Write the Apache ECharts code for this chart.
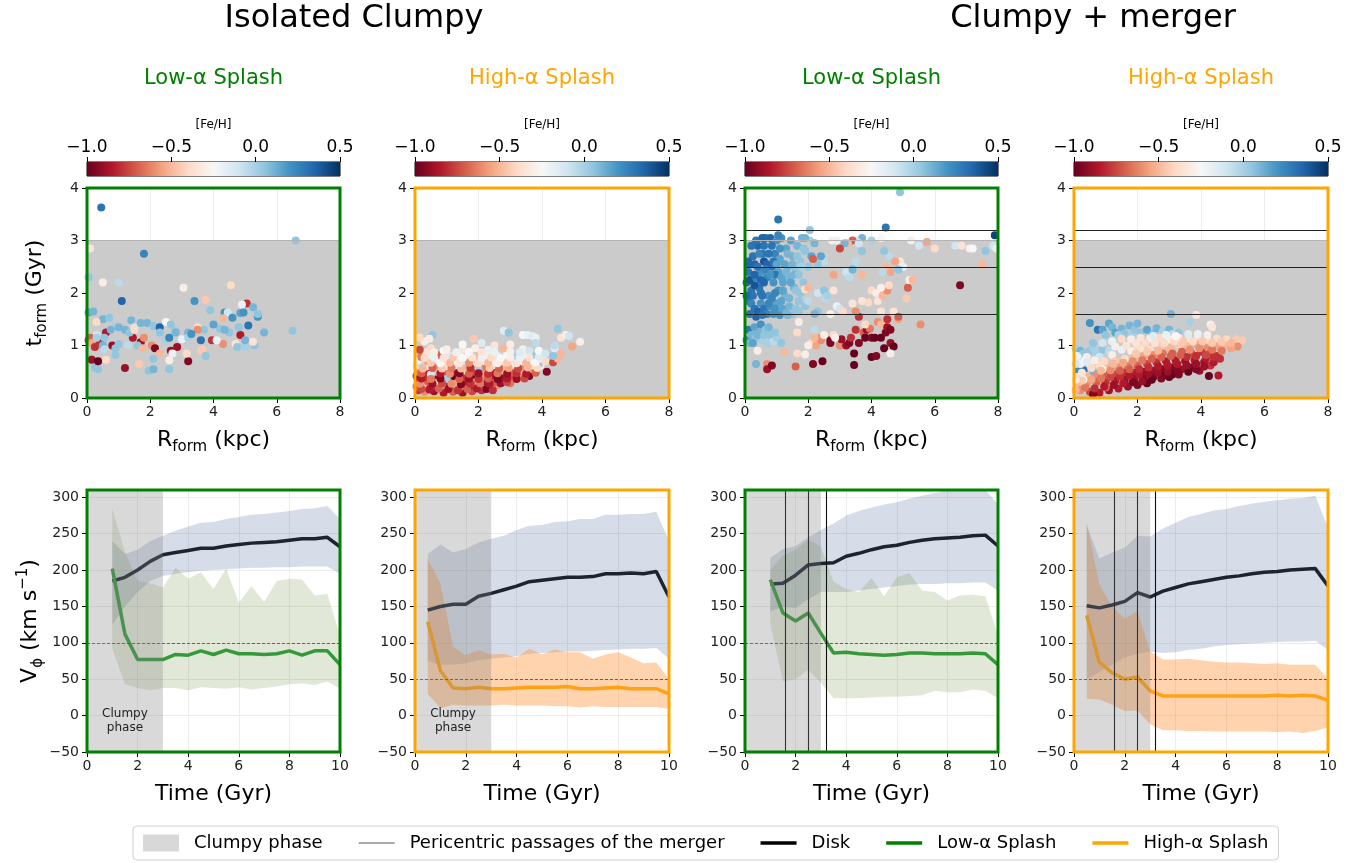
<!DOCTYPE html>
<html>
<head>
<meta charset="utf-8">
<script src="https://cdn.jsdelivr.net/npm/echarts@6/dist/echarts.min.js"></script>
<style>
  html, body { margin: 0; padding: 0; background: #fff; }
  #chart { width: 1372px; height: 863px; }
</style>
</head>
<body>
<div id="chart"></div>
<script>
// ---------- data ----------
const timeLow  = [1,1.5,2,2.5,3,3.5,4,4.5,5,5.5,6,6.5,7,7.5,8,8.5,9,9.5,10];
const timeHigh = [0.5,1,1.5,2,2.5,3,3.5,4,4.5,5,5.5,6,6.5,7,7.5,8,8.5,9,9.5,10];
const pericentres = [1.6, 2.5, 3.2];
const clumpyEnd = 3;

// Isolated clumpy, low-alpha splash
const isoLowDisk     = [185,190,200,212,221,224,227,230,230,233,235,237,238,239,241,243,243,245,232];
const isoLowDiskHi   = [240,222,228,240,247,254,260,265,266,270,273,276,277,279,281,284,285,288,270];
const isoLowDiskLo   = [125,150,170,185,192,195,197,199,200,201,202,203,203,204,204,205,205,205,195];
const isoLowSplash   = [202,112,77,77,77,84,83,89,84,90,85,85,84,85,89,83,89,89,70];
const isoLowSplashHi = [285,225,185,182,176,203,188,197,174,202,155,178,156,185,188,187,165,167,110];
const isoLowSplashLo = [92,43,38,35,38,38,35,39,38,37,39,36,38,40,43,44,42,47,37];

// Isolated clumpy, high-alpha splash
const isoHighDisk     = [145,150,153,153,164,168,173,178,184,186,188,190,190,191,195,195,196,195,198,163];
const isoHighDiskHi   = [222,235,224,229,238,243,247,255,261,262,266,267,270,270,276,276,277,277,280,240];
const isoHighDiskLo   = [75,70,70,72,76,78,80,82,85,86,87,88,88,89,90,91,92,92,93,78];
const isoHighSplash   = [129,62,38,37,39,37,37,38,39,39,39,40,37,37,38,39,37,37,37,30];
const isoHighSplashHi = [215,182,95,83,90,84,85,80,92,84,91,87,87,78,84,87,80,72,73,50];
const isoHighSplashLo = [30,10,15,14,14,14,15,14,14,14,13,13,11,13,12,12,12,12,12,9];

// Clumpy + merger, low-alpha splash
const merLowDisk     = [181,182,193,207,209,210,219,223,228,232,234,238,241,243,244,245,247,248,233];
const merLowDiskHi   = [217,229,233,245,255,264,275,281,286,290,293,298,302,306,310,310,310,310,290];
const merLowDiskLo   = [143,150,148,160,170,170,170,172,174,176,178,180,181,181,182,182,183,183,172];
const merLowSplash   = [187,141,130,141,113,86,87,85,84,83,84,86,86,85,85,85,86,85,70];
const merLowSplashHi = [200,220,228,242,232,184,174,170,189,164,190,196,172,170,158,165,166,164,110];
const merLowSplashLo = [127,47,50,63,45,24,24,24,25,26,26,27,28,34,32,32,36,34,24];

// Clumpy + merger, high-alpha splash
const merHighDisk     = [151,148,152,157,169,163,171,176,181,184,187,190,192,195,197,198,200,201,202,178];
const merHighDiskHi   = [262,216,224,231,247,246,257,265,273,277,282,284,288,291,294,296,298,299,302,258];
const merHighDiskLo   = [50,60,70,80,85,88,86,87,90,92,95,97,98,99,100,101,102,102,103,90];
const merHighSplash   = [138,73,59,50,53,34,27,27,27,27,27,27,27,27,27,28,27,28,27,21];
const merHighSplashHi = [265,180,150,133,144,88,77,77,78,76,74,73,73,72,71,72,70,70,70,50];
const merHighSplashLo = [23,22,15,6,7,-12,-20,-20,-21,-21,-22,-22,-22,-22,-22,-23,-22,-24,-21,-16];

// stars: [R_form (kpc), t_form (Gyr), [Fe/H]]
const isoLowStars = [
  [0.45,3.63,0.3],[6.6,3.0,0.05],[1.8,2.75,0.25],[0.1,2.85,-0.35],[0.05,2.3,0.05],[0.5,2.2,-0.3],[1.0,2.2,-0.05],
  [3.05,2.1,-0.3],[4.55,2.15,-0.4],[1.1,1.85,0.35],[3.4,1.85,0.2],[3.75,1.87,-0.45],[3.9,1.67,0.05],[5.05,1.8,-0.8],
  [4.9,1.78,-0.2],[5.25,1.73,0.1],[4.35,1.63,0.2],[4.45,1.63,-0.1],[4.6,1.53,0.2],[4.85,1.62,0.15],[4.95,1.63,0.2],
  [5.4,1.55,0.2],[5.4,1.6,0.05],[5.1,1.38,0.3],[4.3,1.52,-0.5],[0.05,1.63,0.15],[0.2,1.65,0.1],[0.5,1.5,0.1],
  [0.7,1.53,0.05],[0.3,1.45,-0.4],[0.9,1.37,0.0],[1.0,1.35,0.1],[1.4,1.48,0.1],[1.5,1.35,-0.1],[1.7,1.43,0.1],
  [1.9,1.43,0.1],[2.1,1.37,0.05],[2.3,1.35,0.35],[2.5,1.45,-0.25],[2.65,1.4,0.05],[2.8,1.27,0.05],[3.2,1.25,0.1],
  [3.5,1.35,-0.4],[3.7,1.3,0.05],[4.2,1.32,0.05],[4.0,1.4,0.15],[0.3,1.2,-0.1],[0.6,1.25,-0.85],[1.2,1.3,0.1],
  [1.45,1.15,-0.85],[1.7,1.06,-0.9],[1.8,1.15,-0.6],[2.05,1.0,-0.6],[2.15,0.95,-0.95],[2.5,1.12,0.0],[2.6,1.15,0.25],
  [2.65,0.9,-0.9],[2.85,0.97,-0.9],[3.0,1.12,-0.2],[3.2,1.15,0.0],[3.5,1.3,-0.6],[3.6,1.1,0.3],[3.6,0.9,-0.45],
  [3.95,1.1,-0.8],[4.3,1.03,-0.6],[4.7,1.03,-0.35],[4.85,1.2,-0.85],[4.75,0.97,0.05],[5.0,0.97,0.0],[5.0,1.1,0.1],
  [5.3,1.0,0.05],[5.25,1.07,-0.35],[5.6,1.25,0.1],[6.5,1.28,0.05],[0.05,1.1,-0.8],[0.1,1.15,-0.7],[0.15,1.05,-0.55],
  [0.25,0.97,-0.8],[0.4,1.05,-0.8],[0.3,1.15,0.0],[0.5,1.0,0.1],[0.55,0.93,-0.05],[0.8,1.0,-0.9],[0.9,0.95,0.05],
  [1.0,1.03,0.05],[1.3,1.0,-0.05],[1.6,1.0,0.05],[1.75,0.95,-0.5],[0.1,0.75,0.05],[0.15,0.73,-0.9],[0.25,0.58,0.05],
  [0.35,0.55,0.05],[0.35,0.7,-1.0],[0.6,0.73,-0.4],[0.9,0.82,0.05],[1.2,0.57,-0.9],[1.65,0.65,-0.45],[1.95,0.52,0.05],
  [2.1,0.75,0.05],[2.1,0.55,0.1],[2.3,0.85,-0.5],[2.6,0.55,0.05],[2.6,0.72,-0.3],[2.7,0.85,-0.2],[3.2,0.7,-0.95],
  [3.15,0.85,-0.4],[3.65,0.93,-0.45],[3.75,0.8,0.05],[2.3,1.25,0.05],[2.8,1.25,0.1],[3.3,1.22,0.2],[4.5,1.25,0.05],
  [4.8,1.35,0.05],[4.1,1.1,-0.2],[4.35,1.3,0.1],[1.35,1.25,0.05],[1.5,1.3,-0.4],[0.75,1.3,0.1],[0.55,1.15,0.05]
];

const isoHighStars = [
  [0.1,0.15,-0.8],[0.3,0.12,-0.6],[0.6,0.13,-0.9],[0.9,0.1,-0.85],[1.2,0.12,-0.7],[1.5,0.1,-0.9],[1.8,0.13,-0.75],[2.1,0.15,-0.8],
  [0.05,0.22,-0.7],[0.25,0.25,-0.5],[0.5,0.2,-0.8],[0.8,0.22,-0.6],[1.1,0.25,-0.85],[1.4,0.2,-0.65],[1.7,0.22,-0.9],[2.0,0.23,-0.7],
  [2.3,0.2,-0.75],[2.6,0.25,-0.6],[0.1,0.3,-0.9],[0.4,0.32,-0.7],[0.7,0.3,-0.45],[1.0,0.33,-0.8],[1.3,0.3,-0.55],[1.6,0.32,-0.85],
  [1.9,0.3,-0.6],[2.2,0.32,-0.9],[2.5,0.3,-0.7],[2.8,0.33,-0.8],[3.0,0.28,-0.65],[0.05,0.42,-0.95],[0.3,0.4,-0.8],[0.6,0.43,-0.9],
  [0.9,0.4,-0.7],[1.2,0.42,-1.0],[1.5,0.4,-0.8],[1.8,0.44,-0.95],[2.1,0.4,-0.6],[2.4,0.43,-0.85],[2.7,0.4,-0.9],[3.0,0.42,-0.75],
  [3.3,0.4,-0.6],[3.6,0.42,-0.95],[1.0,0.36,0.0],[0.1,0.5,-0.6],[0.4,0.52,-0.85],[0.7,0.5,-0.5],[1.0,0.53,-0.7],[1.3,0.5,-0.9],
  [1.6,0.52,-0.4],[1.9,0.5,-0.75],[2.2,0.53,-0.55],[2.5,0.5,-0.85],[2.8,0.52,-0.5],[3.1,0.5,-0.7],[3.4,0.53,-0.45],[3.7,0.55,-0.6],
  [4.15,0.5,-0.95],[0.5,0.45,-0.1],[0.05,0.62,-0.4],[0.35,0.6,-0.3],[0.65,0.63,-0.6],[0.95,0.6,-0.35],[1.25,0.62,-0.2],
  [1.55,0.6,-0.55],[1.85,0.63,-0.3],[2.15,0.6,-0.65],[2.45,0.62,-0.35],[2.75,0.6,-0.5],[3.05,0.63,-0.3],[3.35,0.6,-0.6],
  [3.65,0.62,-0.4],[3.95,0.62,-0.3],[4.35,0.68,-0.75],[0.2,0.65,-0.05],[2.0,0.57,0.0],[3.9,0.65,0.05],[0.1,0.72,-0.3],
  [0.4,0.7,-0.55],[0.7,0.73,-0.15],[1.0,0.7,-0.4],[1.3,0.72,-0.25],[1.6,0.7,-0.1],[1.9,0.73,-0.45],[2.2,0.7,-0.3],[2.5,0.72,-0.2],
  [2.8,0.7,-0.35],[3.1,0.73,-0.15],[3.4,0.7,-0.3],[3.7,0.73,-0.2],[4.0,0.75,-0.3],[4.5,0.75,-0.5],[4.35,0.8,0.05],[0.2,0.78,-0.65],
  [0.5,0.8,-0.3],[0.8,0.82,-0.7],[1.1,0.8,-0.15],[1.4,0.8,-0.3],[1.7,0.82,-0.2],[2.0,0.8,-0.5],[2.3,0.82,-0.3],[2.6,0.8,-0.15],
  [2.9,0.83,-0.25],[3.2,0.8,0.0],[3.5,0.82,-0.2],[3.8,0.8,0.05],[0.35,0.87,-0.35],[0.9,0.9,-0.25],[0.15,0.92,-0.75],[0.5,0.95,-0.4],
  [1.0,0.93,-0.3],[1.5,0.92,-0.35],[1.9,0.95,-0.3],[2.3,0.92,-0.2],[2.8,0.95,-0.5],[3.4,0.93,-0.3],[3.6,0.9,-0.1],[4.4,0.95,-0.15],
  [4.95,0.98,-0.55],[5.2,1.07,-0.3],[0.3,1.08,-0.3],[0.15,1.15,-0.4],[0.55,1.2,0.05],[0.45,1.13,-0.3],[1.85,1.13,-0.45],
  [2.8,1.28,-0.15],[2.95,1.25,0.05],[3.4,1.2,-0.25],[3.55,1.2,-0.2],[3.7,1.18,-0.15],[4.5,1.32,0.05],[4.6,1.15,-0.35],
  [4.75,1.2,-0.3],[4.85,1.18,-0.1],[3.8,1.15,-0.2],[3.8,1.05,-0.05],[4.4,1.0,-0.05],[2.1,1.05,-0.15],[1.5,1.02,-0.25],
  [3.0,1.02,-0.3],[2.5,1.0,-0.35],[4.6,0.85,-0.5],
  [0.2,0.17,-0.75],[0.45,0.16,-0.85],[0.75,0.18,-0.7],[1.05,0.17,-0.9],[1.35,0.15,-0.8],[1.65,0.17,-0.7],[1.95,0.18,-0.85],
  [2.25,0.17,-0.95],[2.45,0.15,-0.8],[0.15,0.27,-0.6],[0.55,0.27,-0.9],[0.85,0.28,-0.75],[1.15,0.27,-0.6],[1.45,0.26,-0.95],
  [1.75,0.27,-0.8],[2.05,0.28,-0.65],[2.35,0.27,-0.85],[2.7,0.28,-0.9],[2.9,0.3,-0.75],[0.2,0.37,-0.85],[0.5,0.36,-0.65],
  [0.8,0.37,-0.95],[1.4,0.36,-0.7],[1.7,0.37,-0.9],[2.0,0.36,-0.8],[2.3,0.37,-0.7],[2.6,0.36,-0.95],[2.9,0.37,-0.85],
  [3.2,0.36,-0.9],[3.45,0.37,-0.75],[0.2,0.47,-0.7],[0.8,0.47,-0.85],[1.1,0.46,-0.6],[1.4,0.47,-0.95],[1.7,0.46,-0.7],
  [2.0,0.47,-0.9],[2.3,0.46,-0.8],[2.6,0.47,-0.65],[2.9,0.46,-0.9],[3.2,0.47,-0.8],[3.5,0.46,-0.85],[3.8,0.48,-0.7],
  [0.25,0.56,-0.5],[0.55,0.57,-0.7],[0.85,0.56,-0.45],[1.15,0.57,-0.65],[1.45,0.56,-0.5],[1.75,0.57,-0.8],[2.35,0.57,-0.45],
  [2.65,0.56,-0.7],[2.95,0.57,-0.55],[3.25,0.56,-0.75],[3.55,0.58,-0.5],[3.85,0.57,-0.4],[0.5,0.67,-0.45],[0.8,0.66,-0.25],
  [1.1,0.67,-0.5],[1.4,0.66,-0.35],[1.7,0.67,-0.6],[2.0,0.66,-0.4],[2.3,0.67,-0.5],[2.6,0.66,-0.3],[2.9,0.67,-0.45],
  [3.2,0.66,-0.35],[3.5,0.67,-0.5],[3.8,0.68,-0.25],[4.1,0.7,-0.4],[0.3,0.76,-0.4],[0.6,0.77,-0.2],[0.9,0.76,-0.35],
  [1.2,0.77,-0.45],[1.5,0.76,-0.25],[1.8,0.77,-0.35],[2.1,0.76,-0.2],[2.4,0.77,-0.4],[2.7,0.76,-0.25],[3.0,0.77,-0.3],
  [3.3,0.76,-0.2],[3.6,0.77,-0.35],[3.9,0.78,-0.15],[0.6,0.87,-0.3],[1.3,0.87,-0.2],[1.7,0.88,-0.25],[2.1,0.87,-0.35],
  [2.5,0.88,-0.2],[3.0,0.88,-0.3],[3.3,0.87,-0.15],[3.9,0.9,-0.25],[4.1,0.85,-0.1]
];

const merLowStars = [
  [0.05,2.2,0.35],[0.1,2.4,0.3],[0.15,2.25,0.4],[0.2,2.05,0.3],[0.25,2.7,0.3],[0.3,2.55,0.35],[0.35,2.3,0.25],[0.4,2.9,0.35],
  [0.45,2.1,0.3],[0.5,2.4,0.2],[0.55,2.75,0.3],[0.6,2.6,0.4],[0.65,3.05,0.3],[0.7,2.3,0.25],[0.75,1.95,0.2],[0.8,3.05,0.35],
  [0.85,2.5,0.3],[0.9,2.2,0.2],[0.95,2.75,0.25],[1.0,3.0,0.2],[1.05,2.4,0.15],[1.1,2.65,0.15],[1.15,3.05,0.2],[1.2,2.2,0.15],
  [1.25,1.95,0.1],[1.3,2.85,0.15],[1.35,2.5,0.1],[1.4,2.3,0.1],[1.45,3.0,0.15],[1.5,2.7,0.1],[1.55,2.1,0.1],[1.6,2.45,0.05],
  [1.65,2.9,0.1],[1.7,1.85,0.05],[1.75,2.6,0.05],[1.8,3.05,0.1],[1.85,2.2,0.05],[1.9,2.8,0.05],[2.0,2.5,0.05],[2.05,3.0,0.0],
  [0.1,1.85,0.3],[0.2,1.8,0.25],[0.3,1.7,0.3],[0.4,1.65,0.35],[0.5,1.8,0.2],[0.6,1.7,0.3],[0.7,1.6,0.25],[0.8,1.75,0.2],
  [0.9,1.6,0.2],[1.0,1.8,0.15],[1.1,1.58,0.2],[1.2,1.7,0.15],[1.3,1.62,0.1],[1.4,1.75,0.1],[1.5,1.6,0.05],[1.6,1.7,0.05],
  [1.7,1.65,0.05],[0.5,2.0,0.3],[0.6,2.2,0.35],[0.3,2.15,0.4],[0.85,1.9,0.25],[1.05,2.05,0.2],[0.7,2.55,0.35],[0.95,2.35,0.3],
  [1.25,2.55,0.15],[1.55,2.35,0.1],[0.35,3.0,0.3],[1.05,3.1,0.25],[1.05,3.4,0.3],[0.55,3.05,0.35],
  [0.1,2.6,0.35],[0.2,2.9,0.3],[0.3,2.35,0.35],[0.4,2.5,0.3],[0.45,2.75,0.25],[0.5,2.25,0.35],[0.55,1.95,0.3],[0.65,2.45,0.25],
  [0.75,2.75,0.3],[0.8,2.35,0.2],[0.9,2.6,0.3],[0.95,2.0,0.25],[1.0,2.55,0.15],[1.1,2.85,0.2],[1.15,2.3,0.15],[1.2,2.05,0.15],
  [1.3,2.4,0.1],[1.35,2.75,0.1],[1.4,1.9,0.1],[1.45,2.2,0.15],[1.5,2.55,0.1],[1.6,2.05,0.05],[1.65,2.7,0.05],[1.7,2.35,0.05],
  [1.75,2.0,0.05],[1.8,2.5,0.0],[1.85,2.85,0.05],[1.9,1.75,0.05],[0.25,1.95,0.3],[0.35,1.55,0.35],[0.55,1.58,0.3],
  [0.75,1.8,0.25],[0.95,1.7,0.2],[1.15,1.85,0.15],[1.35,1.58,0.1],[0.15,1.6,0.3],[0.05,1.95,0.35],[0.15,2.55,0.35],
  [0.6,2.9,0.3],[0.85,2.9,0.3],
  [0.05,1.1,0.25],[0.1,1.3,0.3],[0.2,1.2,0.1],[0.3,1.35,0.15],[0.35,1.15,0.05],[0.45,1.25,0.1],[0.5,1.4,0.2],[0.55,1.1,0.0],
  [0.65,1.3,0.05],[0.7,1.05,0.0],[0.8,1.2,0.05],[0.9,1.08,-0.05],[1.0,1.15,0.0],[1.15,1.05,0.05],[0.4,0.9,-0.3],[0.15,1.05,0.1],
  [0.4,1.2,0.1],[0.6,1.2,0.05],[0.25,1.05,0.15],[0.75,1.35,0.1],[0.95,1.25,0.05],
  [0.35,0.65,0.1],[0.7,0.65,-0.6],[0.7,0.55,-0.9],[0.85,0.62,-0.95],[1.6,0.6,-0.7],[2.15,0.65,-0.95],[2.45,0.7,-1.0],
  [1.25,0.87,-0.5],[1.65,0.85,-0.4],[1.65,1.25,-0.4],[1.7,1.45,-0.3],[1.9,0.83,-0.3],[2.1,1.05,-0.4],[2.25,1.0,-0.55],
  [2.4,1.1,-0.6],[2.4,1.15,-0.6],[2.7,1.1,-0.95],[2.7,1.05,-0.95],[2.8,1.2,-0.4],[3.0,1.0,-0.6],[3.05,1.12,-0.9],[3.2,1.0,-0.9],
  [3.3,1.05,-0.95],[3.35,1.15,-0.8],[3.45,0.85,-1.0],[3.45,0.63,-1.0],[3.6,1.05,-0.95],[3.5,1.3,-0.8],[3.75,1.25,-0.7],
  [3.85,1.3,-0.9],[3.95,1.32,-0.65],[3.8,1.15,-1.0],[4.0,0.78,-1.0],[4.0,1.15,-0.95],[4.15,0.8,-0.95],[4.1,1.15,-1.0],
  [4.2,1.45,-0.6],[4.3,1.4,-0.5],[4.3,1.15,-1.0],[4.45,1.25,-0.95],[4.5,1.35,-0.9],[4.5,1.5,-0.8],[4.4,0.95,-1.0],[4.6,1.05,-0.9],
  [4.7,0.98,-1.0],[4.6,1.3,-0.95],[4.6,0.85,-0.3],[3.6,1.55,-0.8],[3.8,1.4,-0.4],[3.7,1.85,-0.35],[3.5,1.65,-0.6],[3.4,1.8,-0.35],
  [3.9,1.82,-0.4],[4.0,2.05,-0.4],[4.15,2.0,-0.3],[4.2,1.85,-0.35],[4.3,1.65,-0.35],[4.35,1.95,-0.5],[4.5,2.05,-0.6],
  [4.55,2.15,-0.4],[4.7,1.65,-0.35],[4.85,1.5,-0.55],[4.85,1.55,-0.7],[4.9,2.6,-0.35],[5.0,2.5,-0.2],[5.1,1.9,-0.45],
  [5.15,2.1,-0.7],[5.2,2.25,-0.3],[5.55,1.4,-0.6],[4.6,2.4,-0.55],[4.45,2.5,-0.5],[4.55,2.7,-0.05],[4.4,2.8,0.05],[4.35,2.4,-0.05],
  [4.3,3.05,-0.25],[4.45,3.25,0.3],[4.0,3.0,0.0],[3.7,3.05,0.1],[3.5,3.0,-0.1],[3.4,3.0,-0.7],[3.25,2.95,-0.5],[3.15,2.95,0.1],
  [3.0,2.85,-0.75],[2.9,3.0,-0.2],[2.75,3.0,-0.3],[2.5,2.6,-0.05],[2.3,2.55,0.05],[2.4,2.7,0.15],[2.1,2.7,0.15],[2.15,2.65,-0.7],
  [2.3,2.0,-0.1],[2.5,2.05,0.05],[2.55,1.9,-0.05],[2.6,1.95,0.0],[2.8,2.35,-0.55],[2.8,2.05,-0.35],[2.7,1.6,-0.3],[2.85,1.15,-0.3],
  [2.3,1.65,0.05],[2.2,1.6,0.1],[2.0,1.85,-0.05],[1.9,2.07,-0.4],[2.0,2.1,-0.5],[2.0,1.0,-0.3],[2.2,1.3,-0.05],[2.5,1.2,-0.3],
  [2.2,1.15,-0.5],[2.9,1.75,-0.2],[3.0,1.7,-0.1],[3.1,1.65,-0.4],[3.2,2.4,-0.1],[3.3,2.3,-0.05],[3.4,2.45,0.1],[3.7,2.8,0.05],
  [3.6,2.95,-0.1],[3.5,2.6,-0.05],[3.7,2.35,-0.5],[4.3,2.1,-0.3],[4.85,2.45,0.05],[4.75,2.6,-0.55],[5.3,2.25,-0.5],[5.5,2.9,-0.1],
  [5.25,3.0,-0.3],[5.75,2.97,-0.55],[6.0,2.85,-0.4],[6.65,2.9,-0.1],[6.85,2.9,-0.35],[7.1,2.85,-0.3],[7.2,2.85,-0.25],
  [7.5,2.55,-0.5],[7.6,2.8,0.05],[7.85,2.9,-0.1],[7.95,2.85,-0.2],[7.9,3.1,0.45],[6.8,2.15,-0.95],[4.9,3.92,0.05],
  [2.05,3.2,0.05],[1.9,3.05,0.1],[2.2,2.95,0.1]
];

const merHighStars = [
  [0.5,1.43,0.2],[0.75,1.3,0.3],[0.9,1.3,0.15],[1.1,1.42,0.15],[1.2,1.35,0.1],[1.3,1.25,0.15],[1.5,1.32,0.1],[1.6,1.23,0.05],
  [1.75,1.38,0.1],[1.9,1.3,0.05],[2.1,1.25,0.05],[2.3,1.3,0.15],[2.5,1.22,0.05],[2.6,1.33,0.1],[2.8,1.27,0.0],[3.0,1.3,0.1],
  [3.1,1.22,-0.05],[3.3,1.25,0.05],[1.0,1.2,0.05],[1.4,1.2,0.0],[1.8,1.18,0.0],[3.05,1.6,0.1],[3.65,1.45,0.0],[3.85,1.58,-0.35],
  [4.3,1.4,-0.3],[4.35,1.35,-0.35],[2.0,1.42,0.1],
  [1.5,1.13,-0.4],[1.8,1.12,-0.3],[2.1,1.15,-0.35],[2.4,1.13,-0.3],[2.7,1.15,-0.4],[3.0,1.12,-0.3],[3.3,1.15,-0.35],
  [3.6,1.12,-0.35],[3.9,1.15,-0.4],[4.2,1.12,-0.4],[4.5,1.13,-0.4],[4.8,1.12,-0.4],[5.1,1.12,-0.45],[5.3,1.1,-0.45],
  [3.6,1.22,-0.15],[3.9,1.22,-0.2],[4.2,1.2,-0.3],
  [0.05,0.95,0.0],[0.2,0.9,0.1],[0.3,0.85,0.05],[0.5,0.9,0.05],[0.7,0.85,0.0],[0.9,0.92,0.05],[1.1,0.9,-0.05],[0.15,0.75,-0.1],
  [0.1,0.55,0.25],[0.3,0.53,0.3],[0.2,0.5,0.2],[0.6,0.5,0.1],
  [0.1,0.8,-0.2],[0.4,0.78,-0.3],[0.8,0.78,-0.1],[1.2,0.82,-0.3],[1.5,0.92,-0.2],[1.8,0.9,-0.3],[2.1,0.95,-0.35],[2.4,0.92,-0.4],
  [2.7,0.98,-0.45],[3.0,0.95,-0.5],[3.3,1.0,-0.45],[3.6,0.98,-0.5],[3.9,1.02,-0.55],[4.2,0.95,-0.6],[4.5,0.98,-0.55],
  [4.8,1.0,-0.5],[5.15,0.98,-0.6],[1.3,0.7,-0.45],[1.6,0.75,-0.4],[1.9,0.78,-0.5],[2.2,0.8,-0.55],[2.5,0.82,-0.6],[2.8,0.85,-0.65],
  [3.1,0.85,-0.7],[3.4,0.88,-0.7],[3.7,0.85,-0.75],[4.0,0.88,-0.8],[4.3,0.85,-0.75],[4.5,0.8,-0.8],[0.2,0.65,-0.2],[0.5,0.65,-0.35],
  [0.8,0.62,-0.4],[1.1,0.6,-0.5],[1.4,0.58,-0.6],[1.7,0.6,-0.65],[2.0,0.62,-0.7],[2.3,0.65,-0.75],[2.6,0.68,-0.8],[2.9,0.7,-0.85],
  [3.2,0.72,-0.85],[3.5,0.7,-0.9],[3.8,0.72,-0.85],[4.1,0.68,-0.9],[4.3,0.62,-0.8],[0.1,0.4,-0.4],[0.4,0.42,-0.5],[0.7,0.42,-0.6],
  [1.0,0.45,-0.7],[1.3,0.45,-0.75],[1.6,0.48,-0.8],[1.9,0.48,-0.85],[2.2,0.5,-0.9],[2.5,0.52,-0.9],[2.8,0.55,-0.95],[3.1,0.58,-0.95],
  [3.4,0.55,-0.9],[3.7,0.58,-0.95],[3.95,0.52,-0.9],[4.25,0.42,-1.0],[4.55,0.43,-0.85],[0.1,0.25,-0.5],[0.4,0.28,-0.6],
  [0.7,0.3,-0.7],[1.0,0.3,-0.8],[1.3,0.33,-0.85],[1.6,0.35,-0.9],[1.9,0.36,-0.9],[2.2,0.38,-0.95],[2.5,0.4,-0.95],[2.8,0.42,-1.0],
  [3.1,0.45,-1.0],[0.2,0.15,-0.6],[0.5,0.12,-0.75],[0.8,0.1,-0.85],[1.1,0.15,-0.9],[1.4,0.18,-0.85],[1.7,0.22,-0.9],
  [2.0,0.25,-0.95],[2.3,0.28,-1.0],[0.6,0.07,-0.95],[1.0,0.2,-0.7],[0.3,0.35,-0.3],[0.9,0.55,-0.3],[2.0,1.0,-0.4],
  [0.35,0.2,-0.65],[0.65,0.18,-0.8],[0.95,0.22,-0.85],[1.25,0.25,-0.9],[1.55,0.28,-0.85],[1.85,0.3,-0.95],[2.15,0.32,-0.9],
  [2.45,0.35,-1.0],[2.75,0.37,-0.95],[3.0,0.4,-1.0],[3.3,0.45,-0.95],[3.6,0.5,-1.0],[3.85,0.55,-0.95],[4.1,0.6,-0.9],
  [4.4,0.68,-0.85],[4.6,0.75,-0.8],[0.25,0.33,-0.45],[0.55,0.35,-0.55],[0.85,0.37,-0.65],[1.15,0.4,-0.75],[1.45,0.41,-0.8],
  [1.75,0.43,-0.85],[2.05,0.45,-0.85],[2.35,0.46,-0.9],[2.65,0.48,-0.9],[2.95,0.5,-0.9],[3.25,0.52,-0.95],[3.55,0.62,-0.9],
  [3.85,0.65,-0.9],[4.15,0.75,-0.85],[4.4,0.78,-0.8],[0.25,0.48,-0.35],[0.55,0.57,-0.4],[0.85,0.52,-0.5],[1.15,0.53,-0.6],
  [1.45,0.52,-0.7],[1.75,0.55,-0.7],[2.05,0.55,-0.8],[2.35,0.58,-0.8],[2.65,0.6,-0.85],[2.95,0.62,-0.85],[3.25,0.65,-0.85],
  [3.55,0.78,-0.8],[3.85,0.8,-0.8],[4.15,0.82,-0.75],[0.35,0.7,-0.25],[0.65,0.72,-0.3],[0.95,0.7,-0.4],[1.25,0.65,-0.5],
  [1.55,0.67,-0.55],[1.85,0.7,-0.6],[2.15,0.72,-0.65],[2.45,0.75,-0.7],[2.75,0.78,-0.7],[3.05,0.8,-0.7],[3.35,0.82,-0.7],
  [3.65,0.92,-0.6],[3.95,0.95,-0.6],[4.35,0.92,-0.65],[4.65,0.9,-0.65],[4.95,0.95,-0.55],[1.3,0.98,-0.3],[1.65,1.0,-0.35],
  [1.95,1.05,-0.35],[2.25,1.05,-0.4],[2.55,1.05,-0.35],[2.85,1.05,-0.4],[3.15,1.08,-0.4],[3.45,1.08,-0.45],[3.75,1.08,-0.4],
  [4.05,1.08,-0.45],[4.35,1.05,-0.45],[4.65,1.07,-0.45],[4.95,1.05,-0.5],[1.95,0.85,-0.45],[2.3,0.88,-0.45],[2.65,0.9,-0.5],
  [0.6,0.95,0.0],[0.4,0.7,-0.15],[0.05,0.65,-0.1],[0.05,0.35,-0.3],[0.05,0.15,-0.5],[1.2,1.08,-0.2],[0.9,1.05,-0.1],
  [0.6,1.05,0.05],[2.5,1.18,-0.15],[2.9,1.2,-0.2],[3.2,1.18,-0.25]
];

const fehTicks = [-1.0, -0.5, 0.0, 0.5];
const vTicks = [-50, 0, 50, 100, 150, 200, 250, 300];

// ---------- layout / style ----------
const FONT = 'DejaVu Sans';
const GREEN = '#008000';
const ORANGE = '#ffa500';
const RDBU = ['#67001f','#b2182b','#d6604d','#f4a582','#fddbc7','#f7f7f7','#d1e5f0','#92c5de','#4393c3','#2166ac','#053061'];
const cols = [87, 415, 745, 1074];
const widths = [253, 254, 253, 254];

const panels = [
  { kind: 'low',  merger: false, stars: isoLowStars,  time: timeLow,  disk: isoLowDisk,  diskHi: isoLowDiskHi,  diskLo: isoLowDiskLo,  sp: isoLowSplash,  spHi: isoLowSplashHi,  spLo: isoLowSplashLo },
  { kind: 'high', merger: false, stars: isoHighStars, time: timeHigh, disk: isoHighDisk, diskHi: isoHighDiskHi, diskLo: isoHighDiskLo, sp: isoHighSplash, spHi: isoHighSplashHi, spLo: isoHighSplashLo },
  { kind: 'low',  merger: true,  stars: merLowStars,  time: timeLow,  disk: merLowDisk,  diskHi: merLowDiskHi,  diskLo: merLowDiskLo,  sp: merLowSplash,  spHi: merLowSplashHi,  spLo: merLowSplashLo },
  { kind: 'high', merger: true,  stars: merHighStars, time: timeHigh, disk: merHighDisk, diskHi: merHighDiskHi, diskLo: merHighDiskLo, sp: merHighSplash, spHi: merHighSplashHi, spLo: merHighSplashLo }
];

const minus = v => String(v).replace('-', '\u2212');
const richName = {
  m: { fontSize: 22, fontFamily: FONT, color: '#000', lineHeight: 30 },
  s: { fontSize: 15, fontFamily: FONT, color: '#000', lineHeight: 14, verticalAlign: 'bottom' },
  p: { fontSize: 15, fontFamily: FONT, color: '#000', lineHeight: 14, verticalAlign: 'top' }
};
const tickLabel = { fontSize: 14, fontFamily: FONT, color: '#222', margin: 7 };
const tickStyle = { show: true, length: 5, lineStyle: { color: '#000', width: 1 } };
const gridLine = { show: true, lineStyle: { color: '#ececec', width: 1 } };
const noLine = { show: false, onZero: false };

const grid = [], xAxis = [], yAxis = [], series = [], graphic = [];
const scatterIdx = [];

function pairs(t, v) { return t.map((x, k) => [x, v[k]]); }

function band(gi, time, lo, hi, fill) {
  return {
    type: 'custom', xAxisIndex: gi, yAxisIndex: gi, z: 1, silent: true, clip: true,
    data: [[time[0], lo[0]]],
    renderItem: (params, api) => {
      const pts = [];
      for (let k = 0; k < time.length; k++) pts.push(api.coord([time[k], hi[k]]));
      for (let k = time.length - 1; k >= 0; k--) pts.push(api.coord([time[k], lo[k]]));
      return { type: 'polygon', shape: { points: pts }, style: { fill: fill } };
    }
  };
}

function frameRect(left, top, width, height, color) {
  return { type: 'rect', silent: true, z: 100,
    shape: { x: left, y: top, width: width, height: height },
    style: { fill: 'none', stroke: color, lineWidth: 3 } };
}

panels.forEach((p, i) => {
  const frame = p.kind === 'low' ? GREEN : ORANGE;
  const cx = cols[i] + widths[i] / 2;

  // colourbar
  const gc = grid.length;
  grid.push({ left: cols[i], top: 162, width: widths[i], height: 14, show: true, borderColor: '#000', borderWidth: 1, outerBoundsMode: 'none' });
  xAxis.push({ gridIndex: gc, type: 'value', min: -1, max: 0.5, interval: 0.5, position: 'top',
    axisLine: noLine, axisTick: tickStyle, splitLine: { show: false },
    axisLabel: { fontSize: 17, fontFamily: FONT, color: '#000', margin: 6, formatter: v => minus(v.toFixed(1)) } });
  yAxis.push({ gridIndex: gc, type: 'value', min: 0, max: 1, show: false });
  series.push({ type: 'line', xAxisIndex: gc, yAxisIndex: gc, data: [], silent: true,
    markArea: { silent: true, data: [[{ xAxis: fehTicks[0], yAxis: 0 }, { xAxis: fehTicks[3], yAxis: 1 }]],
      itemStyle: { color: { type: 'linear', x: 0, y: 0, x2: 1, y2: 0,
        colorStops: RDBU.map((c, k) => ({ offset: k / (RDBU.length - 1), color: c })) } } } });

  // t_form vs R_form scatter
  const gs = grid.length;
  grid.push({ left: cols[i], top: 188, width: widths[i], height: 210, outerBoundsMode: 'none' });
  graphic.push(frameRect(cols[i], 188, widths[i], 210, frame));
  xAxis.push({ gridIndex: gs, type: 'value', min: 0, max: 8, interval: 2,
    axisLine: noLine, axisTick: tickStyle, axisLabel: tickLabel, splitLine: gridLine,
    name: '{m|R}{s|form}{m| (kpc)}', nameLocation: 'middle', nameGap: 27, nameTextStyle: { rich: richName } });
  yAxis.push({ gridIndex: gs, type: 'value', min: 0, max: 4, interval: 1,
    axisLine: noLine, axisTick: tickStyle, axisLabel: Object.assign({}, tickLabel, { margin: 8 }), splitLine: gridLine,
    name: i === 0 ? '{m|t}{s|form}{m| (Gyr)}' : '', nameLocation: 'middle', nameRotate: 90, nameGap: 37,
    nameTextStyle: { rich: richName } });
  const hLines = [{ yAxis: clumpyEnd, lineStyle: { color: '#b4b4b4', width: 1.2, type: 'solid' } }];
  if (p.merger) pericentres.forEach(t => hLines.push({ yAxis: t, lineStyle: { color: '#222', width: 1, type: 'solid' } }));
  scatterIdx.push(series.length);
  series.push({ type: 'scatter', xAxisIndex: gs, yAxisIndex: gs, symbolSize: 8, z: 2,
    data: p.stars, itemStyle: { opacity: 1 },
    markArea: { silent: true, itemStyle: { color: '#cbcbcb' }, data: [[{ yAxis: 0 }, { yAxis: clumpyEnd }]] },
    markLine: { silent: true, symbol: ['none', 'none'], label: { show: false },
      lineStyle: { type: 'solid' }, data: hLines } });

  // V_phi vs time
  const gl = grid.length;
  grid.push({ left: cols[i], top: 490, width: widths[i], height: 262, outerBoundsMode: 'none' });
  graphic.push(frameRect(cols[i], 490, widths[i], 262, frame));
  xAxis.push({ gridIndex: gl, type: 'value', min: 0, max: 10, interval: 2,
    axisLine: noLine, axisTick: tickStyle, axisLabel: tickLabel, splitLine: gridLine,
    name: '{m|Time (Gyr)}', nameLocation: 'middle', nameGap: 27, nameTextStyle: { rich: richName } });
  yAxis.push({ gridIndex: gl, type: 'value', min: -50, max: 310, interval: 50,
    axisLine: noLine,
    axisTick: Object.assign({ customValues: vTicks }, tickStyle),
    axisLabel: Object.assign({ customValues: vTicks, formatter: v => minus(v) }, tickLabel, { margin: 8 }),
    splitLine: gridLine,
    name: i === 0 ? '{m|V}{s|\u03d5}{m| (km s}{p|\u22121}{m|)}' : '', nameLocation: 'middle', nameRotate: 90, nameGap: 37,
    nameTextStyle: { rich: richName } });

  const spColor = p.kind === 'low' ? '#35993a' : '#ffa214';
  const spBand = p.kind === 'low' ? 'rgba(110,140,60,0.2)' : 'rgba(255,140,40,0.38)';
  series.push(band(gl, p.time, p.diskLo, p.diskHi, 'rgba(70,100,150,0.22)'));
  series.push(band(gl, p.time, p.spLo, p.spHi, spBand));
  series.push({ name: 'Disk', type: 'line', xAxisIndex: gl, yAxisIndex: gl, z: 3, symbol: 'none',
    data: pairs(p.time, p.disk), lineStyle: { color: '#1c2331', width: 3.5 }, itemStyle: { color: '#1c2331' } });
  series.push({ name: p.kind === 'low' ? 'Low-\u03b1 Splash' : 'High-\u03b1 Splash', type: 'line',
    xAxisIndex: gl, yAxisIndex: gl, z: 3, symbol: 'none',
    data: pairs(p.time, p.sp), lineStyle: { color: spColor, width: 3.5 }, itemStyle: { color: spColor },
    markLine: { silent: true, symbol: ['none', 'none'], label: { show: false },
      lineStyle: { color: '#444', width: 0.8, type: [3, 2] },
      data: [{ yAxis: p.kind === 'low' ? 100 : 50 }] } });
  if (p.merger) {
    series.push({ name: 'Pericentric passages of the merger', type: 'line', xAxisIndex: gl, yAxisIndex: gl,
      data: [], symbol: 'none', lineStyle: { color: '#555', width: 1.5 }, itemStyle: { color: '#555' },
      markLine: { silent: true, symbol: ['none', 'none'], label: { show: false },
        lineStyle: { color: '#111', width: 1.1, type: 'solid' },
        data: pericentres.map(t => ({ xAxis: t })) } });
  }
  series.push({ name: 'Clumpy phase', type: 'line', xAxisIndex: gl, yAxisIndex: gl, z: 10, data: [],
    symbol: 'none', itemStyle: { color: '#d8d8d8' },
    markArea: { silent: true, z: 10,
      itemStyle: { color: 'rgba(128,128,128,0.3)' },
      label: { show: !p.merger, position: 'insideBottom', distance: 17, formatter: 'Clumpy\nphase',
        fontSize: 12, fontFamily: FONT, color: '#222', lineHeight: 14 },
      data: [[{ xAxis: 0 }, { xAxis: clumpyEnd }]] } });

  // panel labels
  graphic.push({ type: 'text', x: cx, y: 79, style: { text: p.kind === 'low' ? 'Low-\u03b1 Splash' : 'High-\u03b1 Splash',
    font: '21px "DejaVu Sans"', fill: frame, align: 'center', verticalAlign: 'middle', textAlign: 'center', textVerticalAlign: 'middle' } });
  graphic.push({ type: 'text', x: cx, y: 125, style: { text: '[Fe/H]', font: '12px "DejaVu Sans"', fill: '#000',
    align: 'center', verticalAlign: 'middle', textAlign: 'center', textVerticalAlign: 'middle' } });
});

graphic.push({ type: 'text', x: 354, y: 19, style: { text: 'Isolated Clumpy', font: '32px "DejaVu Sans"', fill: '#000',
  align: 'center', verticalAlign: 'middle', textAlign: 'center', textVerticalAlign: 'middle' } });
graphic.push({ type: 'text', x: 1093, y: 19, style: { text: 'Clumpy + merger', font: '32px "DejaVu Sans"', fill: '#000',
  align: 'center', verticalAlign: 'middle', textAlign: 'center', textVerticalAlign: 'middle' } });

const lineIcon = 'path://M0,0H40V4H0Z';
const thinIcon = 'path://M0,0H40V1.2H0Z';

const option = {
  animation: false,
  backgroundColor: '#fff',
  grid: grid,
  xAxis: xAxis,
  yAxis: yAxis,
  visualMap: [{ type: 'continuous', show: false, min: -1, max: 0.5, dimension: 2, seriesIndex: scatterIdx,
    inRange: { color: RDBU } }],
  legend: {
    top: 826, left: 133, itemWidth: 36, itemHeight: 17, itemGap: 36, padding: [8, 10],
    borderColor: '#d0d0d0', borderWidth: 1, borderRadius: 4, backgroundColor: '#fff',
    symbolKeepAspect: true,
    textStyle: { fontSize: 18, fontFamily: FONT, color: '#000', padding: [0, 0, 0, 10] },
    selectedMode: false,
    data: [
      { name: 'Clumpy phase', icon: 'rect', itemStyle: { color: '#d8d8d8' } },
      { name: 'Pericentric passages of the merger', icon: thinIcon, itemStyle: { color: '#555' } },
      { name: 'Disk', icon: lineIcon, itemStyle: { color: '#000' } },
      { name: 'Low-\u03b1 Splash', icon: lineIcon, itemStyle: { color: GREEN } },
      { name: 'High-\u03b1 Splash', icon: lineIcon, itemStyle: { color: ORANGE } }
    ]
  },
  graphic: graphic,
  series: series
};

const chart = echarts.init(document.getElementById('chart'));
chart.setOption(option);
</script>
</body>
</html>
